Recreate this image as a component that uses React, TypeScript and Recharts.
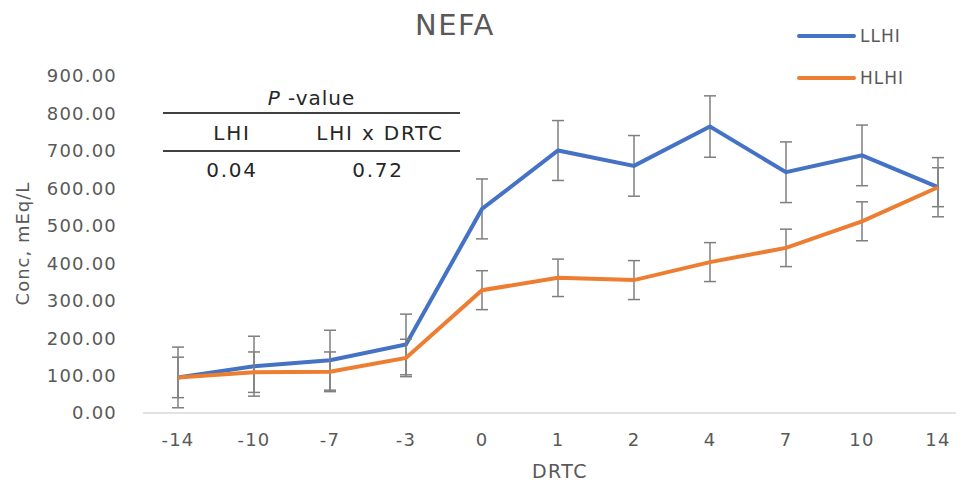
import { ErrorBar, Line, LineChart, XAxis, YAxis } from "recharts";

const days = ["-14", "-10", "-7", "-3", "0", "1", "2", "4", "7", "10", "14"];
const llhi = [95, 125, 141, 183, 545, 701, 660, 765, 643, 688, 603];
const llhiErr = [81, 80, 80, 81, 80, 80, 81, 82, 81, 81, 79];
const hlhi = [95, 109, 110, 147, 328, 361, 355, 403, 441, 512, 603];
const hlhiErr = [54, 54, 53, 50, 52, 50, 52, 52, 50, 52, 52];
const yTicks = [0, 100, 200, 300, 400, 500, 600, 700, 800, 900];

const seriesNames = ["LLHI", "HLHI"];
const seriesColors = ["#4472C4", "#ED7D31"];

const pHeaders = ["LHI", "LHI x DRTC"];
const pValues = ["0.04", "0.72"];

const data = days.map((day, i) => ({
  day,
  LLHI: llhi[i],
  LLHIerr: llhiErr[i],
  HLHI: hlhi[i],
  HLHIerr: hlhiErr[i],
}));

const font = "'DejaVu Sans', sans-serif";
const gray = "#595959";

export default function App() {
  return (
    <div style={{ position: "relative", width: 964, height: 489, margin: -8, overflow: "hidden", background: "#fff" }}>
      <LineChart width={990} height={489} data={data} margin={{ top: 76, right: 11, bottom: 16, left: 0 }}>
        <XAxis
          dataKey="day"
          height={60}
          padding={{ left: 35, right: 41 }}
          tickLine={false}
          tickSize={0}
          tickMargin={20}
          axisLine={{ stroke: "#d9d9d9", strokeWidth: 1.5 }}
          tick={{ fill: gray, fontSize: 18, fontFamily: font, letterSpacing: 1.2 }}
        />
        <YAxis
          type="number"
          domain={[0, 900]}
          ticks={yTicks}
          width={143}
          axisLine={false}
          tickLine={false}
          tickSize={0}
          tickMargin={26}
          tickFormatter={(v: number) => v.toFixed(2)}
          tick={{ fill: gray, fontSize: 18, fontFamily: font, letterSpacing: 1.2 }}
        />
        <Line dataKey="LLHI" stroke={seriesColors[0]} strokeWidth={4} dot={false} isAnimationActive={false}>
          <ErrorBar dataKey="LLHIerr" width={6} stroke="#7f7f7f" strokeWidth={1.5} />
        </Line>
        <Line dataKey="HLHI" stroke={seriesColors[1]} strokeWidth={4} dot={false} isAnimationActive={false}>
          <ErrorBar dataKey="HLHIerr" width={6} stroke="#7f7f7f" strokeWidth={1.5} />
        </Line>
      </LineChart>

      {/* legend */}
      <div style={{ position: "absolute", left: 797, top: 15, fontFamily: font }}>
        {seriesNames.map((name, i) => (
          <div key={name} style={{ display: "flex", alignItems: "center", height: 42 }}>
            <div style={{ width: 59, height: 4, borderRadius: 2, background: seriesColors[i] }} />
            <span style={{ marginLeft: 4, fontSize: 17, letterSpacing: 1, color: gray }}>{name}</span>
          </div>
        ))}
      </div>

      <div style={{ position: "absolute", left: 355, top: 8, width: 200, textAlign: "center", fontFamily: font, fontSize: 29, color: gray, letterSpacing: 1.5 }}>
        NEFA
      </div>
      <div style={{ position: "absolute", left: 460, top: 461, width: 200, textAlign: "center", fontFamily: font, fontSize: 19, lineHeight: "20px", color: gray, letterSpacing: 1.5 }}>
        DRTC
      </div>
      <div
        style={{
          position: "absolute",
          left: 22 - 100,
          top: 245 - 12,
          width: 200,
          textAlign: "center",
          fontFamily: font,
          fontSize: 18,
          color: gray,
          transform: "rotate(-90deg)",
          letterSpacing: 1,
        }}
      >
        Conc, mEq/L
      </div>

      {/* P-value table */}
      <div style={{ position: "absolute", left: 163, top: 86, width: 297, fontFamily: font, color: "#262626", fontSize: 20 }}>
        <div style={{ textAlign: "center", height: 26, letterSpacing: 1 }}>
          <i>P</i> -value
        </div>
        <div style={{ borderTop: "2px solid #404040" }} />
        <div style={{ position: "relative", height: 36, letterSpacing: 1.8 }}>
          <div style={{ position: "absolute", top: 7, left: 69 - 60, width: 120, textAlign: "center" }}>{pHeaders[0]}</div>
          <div style={{ position: "absolute", top: 7, left: 217 - 90, width: 180, textAlign: "center" }}>{pHeaders[1]}</div>
        </div>
        <div style={{ borderTop: "2px solid #404040" }} />
        <div style={{ position: "relative", height: 38, letterSpacing: 1.8 }}>
          <div style={{ position: "absolute", top: 6, left: 69 - 60, width: 120, textAlign: "center" }}>{pValues[0]}</div>
          <div style={{ position: "absolute", top: 6, left: 215 - 90, width: 180, textAlign: "center" }}>{pValues[1]}</div>
        </div>
      </div>
    </div>
  );
}
